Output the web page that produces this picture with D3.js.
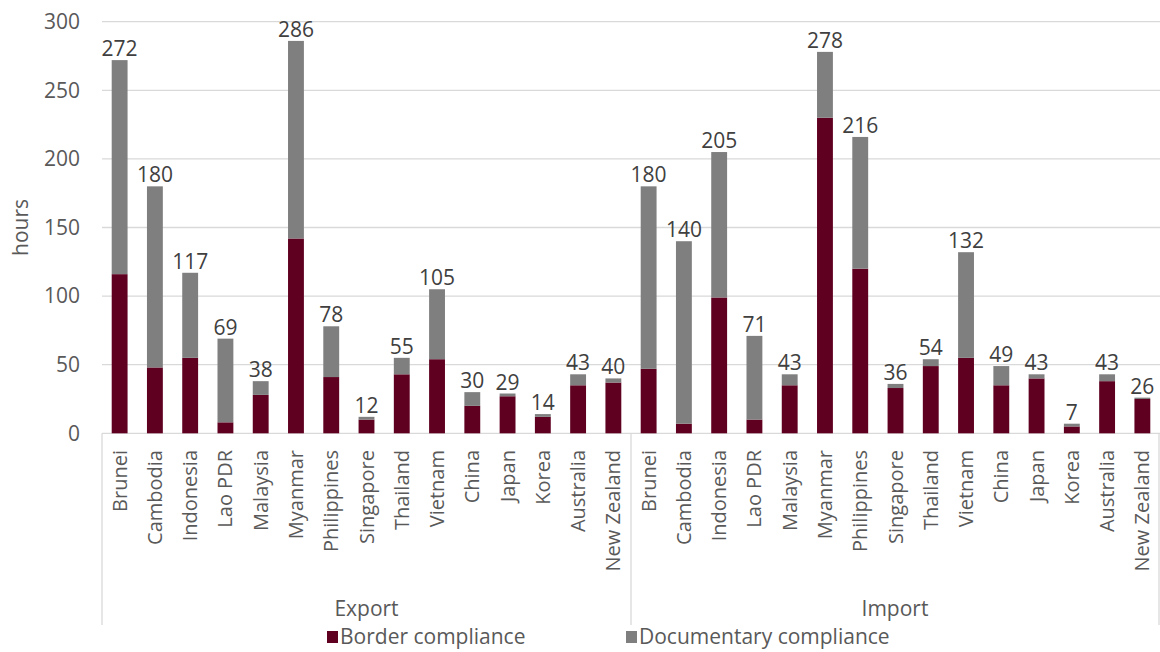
<!DOCTYPE html>
<html>
<head>
<meta charset="utf-8">
<script src="https://cdn.jsdelivr.net/npm/d3@7"></script>
<style>
  body { margin: 0; background: #fff; }
  text { font-family: "Open Sans", sans-serif; }
</style>
</head>
<body>
<svg id="chart" width="1160" height="652"></svg>
<script>
// Datos del gráfico
const grupos = ['Export', 'Import'];
const paises = ['Brunei', 'Cambodia', 'Indonesia', 'Lao PDR', 'Malaysia', 'Myanmar', 'Philippines',
    'Singapore', 'Thailand', 'Vietnam', 'China', 'Japan', 'Korea', 'Australia', 'New Zealand'];

// horas de cumplimiento fronterizo
const fronteraExport = [116, 48, 55, 8, 28, 142, 41, 10, 43, 54, 20, 27, 12, 35, 37];
const fronteraImport = [47, 7, 99, 10, 35, 230, 120, 33, 49, 55, 35, 40, 5, 38, 25];
// horas de cumplimiento documental
const documentalExport = [156, 132, 62, 61, 10, 144, 37, 2, 12, 51, 10, 2, 2, 8, 3];
const documentalImport = [133, 133, 106, 61, 8, 48, 96, 3, 5, 77, 14, 3, 2, 5, 1];

const yTicks = [0, 50, 100, 150, 200, 250, 300];
const series = ['Border compliance', 'Documentary compliance'];
const colores = ['#600020', '#7f7f7f'];

// Construir filas
const filas = [];
grupos.forEach((g, gi) => {
    const fr = gi === 0 ? fronteraExport : fronteraImport;
    const doc = gi === 0 ? documentalExport : documentalImport;
    paises.forEach((p, i) => {
        filas.push({ key: g + '|' + p, grupo: g, pais: p, border: fr[i], doc: doc[i] });
    });
});

const svg = d3.select('#chart');
const izq = 102, der = 1160, arriba = 21.7, abajo = 433.3;

const x = d3.scaleBand()
    .domain(filas.map(d => d.key))
    .range([izq, der])
    .paddingInner(0.55)
    .paddingOuter(0.275);

const y = d3.scaleLinear().domain([0, 300]).range([abajo, arriba]);

// Líneas de cuadrícula
svg.append('g')
    .selectAll('line')
    .data(yTicks)
    .enter()
    .append('line')
    .attr('x1', izq)
    .attr('x2', der)
    .attr('y1', d => y(d))
    .attr('y2', d => y(d))
    .attr('stroke', '#d9d9d9')
    .attr('stroke-width', 1.3);

// Etiquetas del eje Y
svg.append('g')
    .selectAll('text')
    .data(yTicks)
    .enter()
    .append('text')
    .attr('x', 80)
    .attr('y', d => y(d))
    .attr('dy', '0.35em')
    .attr('text-anchor', 'end')
    .attr('fill', '#595959')
    .style('font-size', '21px')
    .text(d => d);

svg.append('text')
    .attr('transform', `translate(28,${(arriba + abajo) / 2}) rotate(-90)`)
    .attr('text-anchor', 'middle')
    .attr('fill', '#595959')
    .style('font-size', '21px')
    .text('hours');

// Barras apiladas
const stack = d3.stack().keys(['border', 'doc']);
const capas = stack(filas);

svg.append('g')
    .selectAll('g')
    .data(capas)
    .enter()
    .append('g')
    .attr('fill', (d, i) => colores[i])
    .selectAll('rect')
    .data(d => d)
    .enter()
    .append('rect')
    .attr('x', d => x(d.data.key))
    .attr('width', x.bandwidth())
    .attr('y', d => y(d[1]))
    .attr('height', d => y(d[0]) - y(d[1]));

// Totales
svg.append('g')
    .selectAll('text')
    .data(filas)
    .enter()
    .append('text')
    .attr('x', d => x(d.key) + x.bandwidth() / 2)
    .attr('y', d => y(d.border + d.doc) - 4)
    .attr('text-anchor', 'middle')
    .attr('fill', '#404040')
    .style('font-size', '21px')
    .text(d => d.border + d.doc);

// Etiquetas de país
svg.append('g')
    .selectAll('text')
    .data(filas)
    .enter()
    .append('text')
    .attr('transform', d => `translate(${x(d.key) + x.bandwidth() / 2},450) rotate(-90)`)
    .attr('dy', '0.35em')
    .attr('text-anchor', 'end')
    .attr('fill', '#595959')
    .style('font-size', '20px')
    .text(d => d.pais);

// Separadores de grupo
const mitad = x(filas[paises.length].key) - x.step() * 0.275;
const bordes = [izq, mitad, der - 1];
svg.append('g')
    .selectAll('line')
    .data(bordes)
    .enter()
    .append('line')
    .attr('x1', d => d)
    .attr('x2', d => d)
    .attr('y1', abajo)
    .attr('y2', 625)
    .attr('stroke', '#d9d9d9')
    .attr('stroke-width', 1.3);

svg.append('g')
    .selectAll('text')
    .data(grupos)
    .enter()
    .append('text')
    .attr('x', (d, i) => (bordes[i] + bordes[i + 1]) / 2)
    .attr('y', 616)
    .attr('text-anchor', 'middle')
    .attr('fill', '#595959')
    .style('font-size', '21px')
    .text(d => d);

// Leyenda
const leyX = [327, 626];
const ley = svg.append('g')
    .selectAll('g')
    .data(series)
    .enter()
    .append('g')
    .attr('transform', (d, i) => `translate(${leyX[i]},637)`);

ley.append('rect')
    .attr('x', 0)
    .attr('y', -6)
    .attr('width', 11)
    .attr('height', 12)
    .attr('fill', (d, i) => colores[i]);

ley.append('text')
    .attr('x', 13)
    .attr('dy', '0.35em')
    .attr('fill', '#595959')
    .style('font-size', '21px')
    .text(d => d);
</script>
</body>
</html>
